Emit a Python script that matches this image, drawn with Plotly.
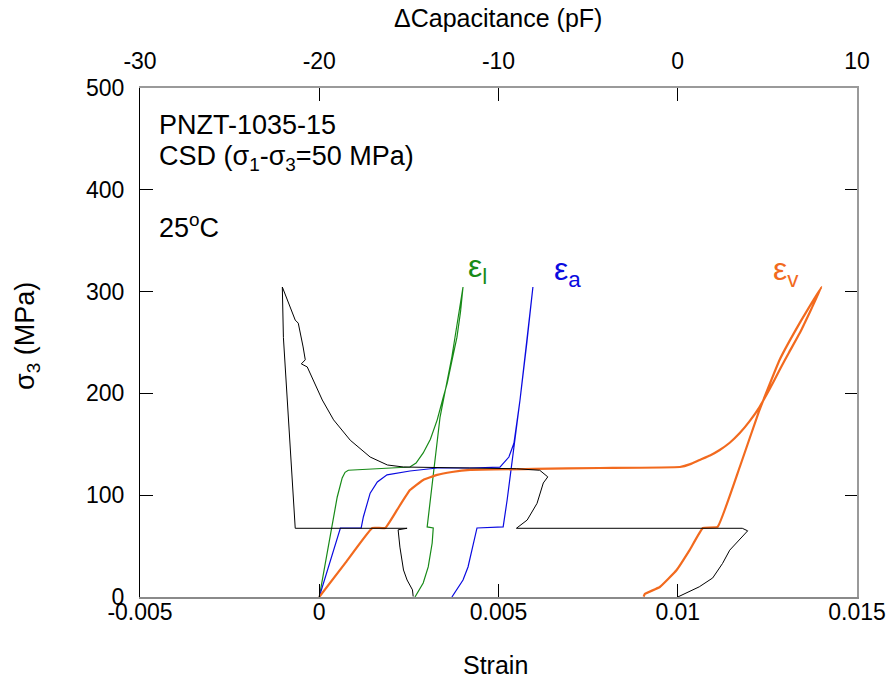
import plotly.graph_objects as go

# ---------------- data ----------------
# lateral strain (green)
el_strain = [0.0, 0.00018, 0.00036, 0.00050, 0.00064, 0.00072, 0.00081, 0.0012, 0.0017, 0.0022, 0.00253,
             0.0027, 0.0029, 0.0031, 0.00329, 0.00345, 0.00357, 0.0037, 0.00384, 0.00394, 0.00401,
             0.00370, 0.00337, 0.00301, 0.00318, 0.00315, 0.00304, 0.0029, 0.00273, 0.00267]
el_stress = [0, 34, 67.8, 98, 117, 122.5, 124.5, 125.3, 126, 126.8, 127.7,
             131.6, 141.5, 155, 174, 195, 210, 232, 255, 280, 304.5,
             236, 176.8, 68.8, 67.8, 53, 29.5, 13.8, 4, 0]

# axial strain (blue)
ea_strain = [0.0, 0.00030, 0.00059, 0.00117, 0.00123, 0.00142, 0.00162, 0.00189, 0.00253, 0.00329, 0.00421,
             0.00504, 0.00529, 0.00543, 0.0056, 0.00579, 0.00596,
             0.00560, 0.00524, 0.00513, 0.00440, 0.00426, 0.00415, 0.00401, 0.00384, 0.00370]
ea_stress = [0, 34, 67.8, 67.8, 78.6, 102, 113, 120, 123.8, 126.7, 126.7,
             127.5, 137.5, 151, 193.5, 249.5, 304.5,
             193.5, 95, 68.8, 67.8, 46, 29.5, 16.7, 6.9, 0]

# volumetric strain (orange)
ev_strain = [0.0, 0.00074, 0.00148, 0.00184, 0.00217, 0.00253, 0.0029, 0.00329, 0.00370, 0.00421, 0.0060,
             0.00783, 0.01006, 0.01035, 0.01061, 0.01090, 0.01117, 0.01145, 0.01173, 0.01200, 0.01228,
             0.01256, 0.01284, 0.0131, 0.0134, 0.01370, 0.01401,
             0.0134, 0.01284, 0.01228, 0.01173, 0.01111, 0.0107, 0.01033, 0.00997, 0.0095, 0.00908, 0.00905]
ev_stress = [0, 34, 67.8, 67.8, 85.5, 105, 115, 120, 122.8, 124.8, 125.8,
             126.7, 127.7, 130.5, 134.6, 139, 144.4, 151.5, 161, 172.5, 186.6,
             204, 223, 240, 259, 281, 304.5,
             269, 232.8, 183.7, 127.7, 68.8, 67.8, 46, 26.5, 9.8, 3, 0.3]

# capacitance change (black, top axis)
cap_pf = [0.0, 1.2, 1.95, 2.5, 2.9, 3.45, 3.9, 3.6, -9.0, -8.4, -7.85, -7.5, -7.25, -7.7, -9.0, -11.6, -15.3,
          -16.2, -17.16, -18.27, -19.2, -19.83, -20.33, -20.67, -21.0, -20.78, -20.9, -21.17, -21.34,
          -21.45, -21.73, -22.0, -22.06,
          -22.0, -21.73, -21.45, -21.34, -15.1, -15.6, -15.5, -15.4, -15.3, -15.1, -14.8, -14.76]
cap_stress = [0, 10, 18.7, 33, 46, 56, 65, 67.5, 67.5, 75.6, 92, 112, 118, 124.5, 126, 126.7, 127.7,
              129.7, 137.5, 154, 174, 193.5, 213, 226, 229, 233, 245.6, 269, 272,
              277, 289, 301.6, 304.5,
              255, 174, 92, 67.5, 67.5, 66, 49, 36, 26.5, 16.7, 7, 0.5]

strain_ticks = [-0.005, 0, 0.005, 0.01, 0.015]
strain_ticktext = ["-0.005", "0", "0.005", "0.01", "0.015"]
cap_ticks = [-30, -20, -10, 0, 10]
cap_ticktext = ["-30", "-20", "-10", "0", "10"]
stress_ticks = [0, 100, 200, 300, 400, 500]

# ---------------- styling ----------------
FONT = "Liberation Sans, Arial, sans-serif"
GREEN = "#178a17"
BLUE = "#0a0ae0"
ORANGE = "#f26a1e"

fig = go.Figure()
fig.add_trace(go.Scatter(x=cap_pf, y=cap_stress, xaxis="x2", yaxis="y", mode="lines",
                         line=dict(color="black", width=1), showlegend=False))
fig.add_trace(go.Scatter(x=el_strain, y=el_stress, mode="lines",
                         line=dict(color=GREEN, width=1.2), showlegend=False))
fig.add_trace(go.Scatter(x=ea_strain, y=ea_stress, mode="lines",
                         line=dict(color=BLUE, width=1.2), showlegend=False))
fig.add_trace(go.Scatter(x=ev_strain, y=ev_stress, mode="lines",
                         line=dict(color=ORANGE, width=2.2, shape="spline", smoothing=0.3), showlegend=False))
# invisible trace to keep right axis active
fig.add_trace(go.Scatter(x=[None], y=[None], yaxis="y2", showlegend=False))

tickfont = dict(family=FONT, size=23, color="black")
fig.update_layout(
    width=889, height=681,
    margin=dict(l=140, r=32, t=88, b=84),
    paper_bgcolor="white", plot_bgcolor="white",
    font=dict(family=FONT, color="black"),
    xaxis=dict(range=[-0.005, 0.015], tickvals=strain_ticks, ticktext=strain_ticktext,
               ticks="inside", ticklen=13, tickwidth=1, tickcolor="black",
               showline=True, linecolor="#8a8a8a", linewidth=2, showgrid=False, zeroline=False,
               tickfont=tickfont, automargin=False, ticklabelstandoff=-7),
    xaxis2=dict(range=[-30, 10], tickvals=cap_ticks, ticktext=cap_ticktext, overlaying="x", side="top",
                ticks="inside", ticklen=13, tickwidth=1, tickcolor="black",
                showline=True, linecolor="#9a9a9a", linewidth=1.5, showgrid=False, zeroline=False,
                tickfont=tickfont, automargin=False, ticklabelstandoff=8),
    yaxis=dict(range=[0, 500], tickvals=stress_ticks, ticks="inside", ticklen=13, tickwidth=1,
               tickcolor="black", showline=True, linecolor="black", linewidth=1.2,
               showgrid=False, zeroline=False, tickfont=tickfont, automargin=False,
               ticklabelstandoff=10),
    yaxis2=dict(range=[0, 500], tickvals=stress_ticks, overlaying="y", side="right",
                ticks="inside", ticklen=12, tickwidth=1, tickcolor="black", showticklabels=False,
                showline=True, linecolor="#9a9a9a", linewidth=1.5, showgrid=False, zeroline=False,
                automargin=False),
)

def px2paper(xp, yp):
    return (xp - 140) / 717.0, (597 - yp) / 509.0

ann = []
def add(text, xp, yp, size, color="black", xanchor="left", yanchor="middle", angle=0):
    x, y = px2paper(xp, yp)
    ann.append(dict(text=text, x=x, y=y, xref="paper", yref="paper", showarrow=False,
                    xanchor=xanchor, yanchor=yanchor, textangle=angle,
                    font=dict(family=FONT, size=size, color=color)))

add("PNZT-1035-15", 157, 125, 27)
add("CSD (σ<sub>1</sub>-σ<sub>3</sub>=50 MPa)", 157, 158, 27)
add("25<sup>o</sup>C", 157, 226, 27)
add("ε<sub>l</sub>", 466, 268, 32, GREEN)
add("ε<sub>a</sub>", 552, 271, 32, BLUE)
add("ε<sub>v</sub>", 771, 271, 32, ORANGE)
add("Strain", 495, 665, 25, xanchor="center")
add("ΔCapacitance (pF)", 498, 18, 25, xanchor="center")
add("σ<sub>3</sub> (MPa)", 27, 336, 27, xanchor="center", angle=-90)
fig.update_layout(annotations=ann)

fig.write_html("out.html")
